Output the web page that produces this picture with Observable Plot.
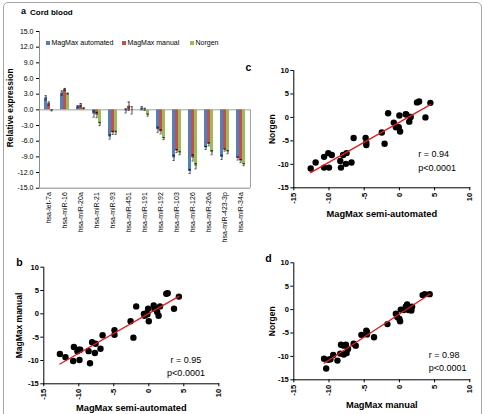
<!DOCTYPE html>
<html><head><meta charset="utf-8">
<script src="https://cdn.jsdelivr.net/npm/d3@7"></script>
<script src="https://cdn.jsdelivr.net/npm/@observablehq/plot@0.6"></script>
<style>
body{margin:0;background:#fff;}
#fig{position:relative;width:485px;height:414px;overflow:hidden;font-family:"Liberation Sans",Arial,sans-serif;color:#000;}
#fig svg{position:absolute;}
#border{position:absolute;left:3px;top:2px;width:477px;height:440px;border:1px solid #a6a6a6;border-radius:5px;}
.lbl{position:absolute;white-space:nowrap;}
</style></head>
<body><div id="fig"><div id="border"></div></div>
<script>
// ---------- Panel a data ----------
const categories = ["hsa-let-7a","hsa-miR-16","hsa-miR-20a","hsa-miR-21","hsa-miR-93","hsa-miR-451","hsa-miR-191","hsa-miR-192","hsa-miR-103","hsa-miR-126","hsa-miR-26a","hsa-miR-423-3p","hsa-miR-34a"];
const seriesNames = ["MagMax automated","MagMax manual","Norgen"];
const seriesColors = ["#4F81BD","#C0504D","#9BBB59"];
const automatedMean = [2.3, 3.2, 0.6, -0.8, -5.2, -0.2, 0.3, -3.8, -9.2, -11.8, -7.3, -9.1, -9.3];
const automatedErr  = [0.4, 0.4, 0.2, 0.6, 0.4, 0.4, 0.3, 0.5, 0.5, 0.4, 0.3, 0.4, 0.3];
const manualMean    = [1.2, 3.9, 0.9, -1.0, -4.4, 0.7, 0.1, -4.2, -7.9, -9.2, -6.6, -7.7, -9.8];
const manualErr     = [0.3, 0.2, 0.3, 0.5, 0.3, 0.8, 0.2, 0.4, 0.3, 0.6, 0.3, 0.2, 0.3];
const norgenMean    = [-0.1, 3.1, 0.3, -2.7, -4.4, -0.1, -1.0, -5.5, -8.3, -10.8, -8.2, -8.1, -10.5];
const norgenErr     = [0.1, 0.1, 0.1, 0.3, 0.3, 0.7, 0.2, 0.2, 0.3, 0.5, 0.4, 0.3, 0.2];
const yDomainA = [-15, 15];
const yTicksA = [-15, -12, -9, -6, -3, 0, 3, 6, 9, 12, 15];

// ---------- Scatter data ----------
const scatterDomain = [-15, 10];
const scatterTicks = [-15, -10, -5, 0, 5, 10];
// b: MagMax semi-automated (x) vs MagMax manual (y)
const bX = [-12.7,-11.9,-10.8,-10.7,-10.2,-10.0,-9.8,-9.9,-8.6,-8.4,-8.1,-7.7,-7.6,-6.9,-6.6,-4.9,-4.9,-2.6,-2.2,-1.8,-0.7,-0.6,-0.4,-0.2,-0.1,0.0,0.7,0.8,1.2,1.4,1.6,3.6,2.5,2.7,4.3];
const bY = [-8.6,-9.3,-10.1,-7.1,-8.0,-7.7,-7.7,-9.9,-8.0,-10.6,-6.1,-8.4,-6.4,-7.5,-4.6,-3.5,-4.5,-1.6,-5.1,1.6,0.0,-0.4,0.1,-0.1,1.1,-1.6,1.8,1.1,0.4,-0.4,1.6,1.1,4.3,4.4,3.7];
// c: MagMax semi-automated (x) vs Norgen (y)
const cX = [-12.6,-11.9,-10.7,-10.7,-10.0,-10.1,-9.6,-8.4,-8.3,-8.0,-7.6,-7.5,-6.8,-6.5,-4.8,-4.7,-4.7,-2.5,-2.1,-1.6,-0.8,-0.5,-0.1,0.1,0.0,0.9,1.0,1.4,1.6,2.5,2.8,3.7,4.4];
const cY = [-10.9,-9.6,-8.4,-10.7,-10.7,-7.6,-8.0,-9.3,-10.7,-8.0,-9.9,-7.6,-9.6,-4.4,-4.4,-5.4,-5.9,-3.2,-5.6,0.9,-1.1,-2.1,-2.1,-3.0,0.4,0.7,0.6,-0.9,0.1,3.2,3.4,0.0,3.1];
// d: MagMax manual (x) vs Norgen (y)
const dX = [-10.7,-10.4,-10.1,-9.8,-9.4,-8.8,-8.4,-8.3,-7.9,-7.9,-7.6,-7.5,-7.3,-6.5,-6.2,-5.4,-4.7,-4.6,-4.6,-3.6,-1.7,-0.5,-0.3,0.0,0.1,0.2,0.6,0.9,1.1,1.3,1.5,1.7,1.8,3.3,3.6,4.3];
const dY = [-10.5,-12.6,-10.7,-10.6,-9.7,-10.9,-9.4,-7.5,-7.7,-9.6,-7.5,-9.3,-8.4,-7.3,-7.7,-5.4,-4.5,-4.8,-5.3,-5.9,-3.1,-0.9,-1.6,-2.0,-2.5,0.0,-0.1,0.6,1.1,-0.1,0.1,-0.2,0.6,3.1,3.3,3.3];
const statsB = ["r = 0.95", "p<0.0001"];
const statsC = ["r = 0.94", "p<0.0001"];
const statsD = ["r = 0.98", "p<0.0001"];

const FF = "'Liberation Sans', Arial, sans-serif";
const fig = document.getElementById("fig");
function place(svg, left, top) { svg.style.left = left + "px"; svg.style.top = top + "px"; fig.appendChild(svg); }
function label(text, left, top, css) { const d = document.createElement("div"); d.className = "lbl"; d.textContent = text; d.style.left = left + "px"; d.style.top = top + "px"; Object.assign(d.style, css || {}); fig.appendChild(d); return d; }

// ---------- Panel a ----------
const means = [automatedMean, manualMean, norgenMean];
const errs = [automatedErr, manualErr, norgenErr];
const rows = categories.flatMap((c, i) => seriesNames.map((s, j) => ({cat: c, s, v: means[j][i], e: errs[j][i]})));

const axesA = Plot.plot({
  width: 255, height: 250, marginLeft: 39, marginRight: 5, marginTop: 31, marginBottom: 62.3,
  style: {background: "transparent", fontFamily: FF, fontSize: "7px", color: "#000"},
  x: {domain: [0, 1], axis: null},
  y: {domain: yDomainA, ticks: yTicksA, tickFormat: d => d.toFixed(1), tickSize: 3, tickPadding: 3, label: null},
  marks: [
    Plot.ruleY([0], {stroke: "#a0a0a0"}),
    Plot.ruleY([yDomainA[0]], {stroke: "#8c8c8c"}),
    Plot.ruleX([0], {stroke: "#8c8c8c"}),
    Plot.ruleX([1], {y1: 0, y2: yDomainA[0], stroke: "#a0a0a0"}),
    Plot.text(["Relative expression"], {text: d => d, frameAnchor: "left", textAnchor: "middle", lineAnchor: "middle", rotate: -90, dx: -29, dy: -2, fontSize: 8.4, fontWeight: "bold"})
  ]
});
place(axesA, 0, 0);

const barsA = Plot.plot({
  width: 255, height: 250, marginLeft: 39, marginRight: 6, marginTop: 31, marginBottom: 62.3,
  style: {background: "transparent", fontFamily: FF, fontSize: "7px", color: "#000"},
  facet: {data: rows, x: "cat"},
  fx: {domain: categories, paddingInner: 0.39, paddingOuter: 0.1, axis: "bottom", tickRotate: -90, tickSize: 0, tickPadding: 4, label: null},
  x: {domain: seriesNames, padding: 0.06, axis: null},
  y: {domain: yDomainA, axis: null},
  color: {domain: seriesNames, range: seriesColors},
  marks: [
    Plot.barY(rows, {x: "s", y: "v", fill: "s"}),
    Plot.ruleX(rows, {x: "s", y1: d => d.v - d.e, y2: d => d.v + d.e, stroke: "#000", strokeWidth: 0.7}),
    Plot.tickY(rows, {x: "s", y: d => d.v + d.e, stroke: "#000", strokeWidth: 0.7, insetLeft: 0.5, insetRight: 0.5}),
    Plot.tickY(rows, {x: "s", y: d => d.v - d.e, stroke: "#000", strokeWidth: 0.7, insetLeft: 0.5, insetRight: 0.5})
  ]
});
place(barsA, 0, 0);

// title and legend
label("a", 21, 6, {fontSize: "9px", fontWeight: "bold"});
label("Cord blood", 30, 8, {fontSize: "8px", fontWeight: "bold"});
const legendX = [46, 122, 190];
seriesNames.forEach((s, i) => {
  const m = document.createElement("div");
  Object.assign(m.style, {position: "absolute", left: legendX[i] + "px", top: "41px", width: "4px", height: "4px", background: seriesColors[i]});
  fig.appendChild(m);
  label(s, legendX[i] + 5.5, 38.5, {fontSize: "7px"});
});

// ---------- Scatter panels ----------
function scatterPlot(o) {
  const data = o.xs.map((x, i) => ({x, y: o.ys[i]}));
  const t = {text: d => d, lineAnchor: "middle"};
  return Plot.plot({
    width: o.w, height: o.h, marginLeft: o.ml, marginRight: o.mr, marginTop: o.mt, marginBottom: o.mb,
    style: {background: "transparent", fontFamily: FF, fontSize: "7.5px", fontWeight: "bold", color: "#000"},
    x: {domain: scatterDomain, ticks: scatterTicks, tickFormat: d => String(d), tickRotate: -90, tickSize: 3, tickPadding: 2, line: true, label: null},
    y: {domain: scatterDomain, ticks: scatterTicks, tickFormat: d => String(d), tickSize: 3, tickPadding: 2, line: true, label: null},
    marks: [
      Plot.dot(data, {x: "x", y: "y", r: 3.2, fill: "#000", stroke: "none"}),
      Plot.linearRegressionY(data, {x: "x", y: "y", stroke: "#e3191c", strokeWidth: 1.3, ci: 0}),
      Plot.text([o.letter], {...t, frameAnchor: "top-left", textAnchor: "middle", dx: o.letterDx, dy: o.letterDy, fontSize: 10.5, fontWeight: "bold"}),
      Plot.text([o.yLabel], {...t, frameAnchor: "left", textAnchor: "middle", rotate: -90, dx: o.yDx, fontSize: 8.5, fontWeight: "bold"}),
      Plot.text([o.xLabel], {...t, frameAnchor: "bottom", textAnchor: "middle", dy: o.xDy, fontSize: 9.3, fontWeight: "bold"}),
      Plot.text([o.stats[0]], {...t, frameAnchor: "bottom-right", textAnchor: o.sAnchor, dx: o.sDx, dy: o.rDy, fontSize: 9, fontWeight: "normal"}),
      Plot.text([o.stats[1]], {...t, frameAnchor: "bottom-right", textAnchor: o.sAnchor, dx: o.sDx, dy: o.pDy, fontSize: 9, fontWeight: "normal"})
    ]
  });
}

place(scatterPlot({xs: bX, ys: bY, w: 240, h: 159, ml: 43.3, mr: 21.7, mt: 11.7, mb: 30.7,
  letter: "b", letterDx: -24.3, letterDy: -4.7, yLabel: "MagMax manual", yDx: -25, xLabel: "MagMax semi-automated", xDy: 24.7,
  stats: statsB, sAnchor: "middle", sDx: -32.8, rDy: -23.3, pDy: -10.6}), 0, 255);

place(scatterPlot({xs: cX, ys: cY, w: 245, h: 165, ml: 53.3, mr: 15.7, mt: 15, mb: 32.7,
  letter: "c", letterDx: -45.3, letterDy: -3, yLabel: "Norgen", yDx: -21.6, xLabel: "MagMax semi-automated", xDy: 26.7,
  stats: statsC, sAnchor: "start", sDx: -51.6, rDy: -33.3, pDy: -19.6}), 240, 55);

place(scatterPlot({xs: dX, ys: dY, w: 245, h: 164, ml: 53.3, mr: 15.7, mt: 12.3, mb: 34.7,
  letter: "d", letterDx: -25.3, letterDy: -4.3, yLabel: "Norgen", yDx: -21.6, xLabel: "MagMax manual", xDy: 25.7,
  stats: statsD, sAnchor: "start", sDx: -41, rDy: -24.3, pDy: -11.3}), 240, 250);
</script></body></html>
